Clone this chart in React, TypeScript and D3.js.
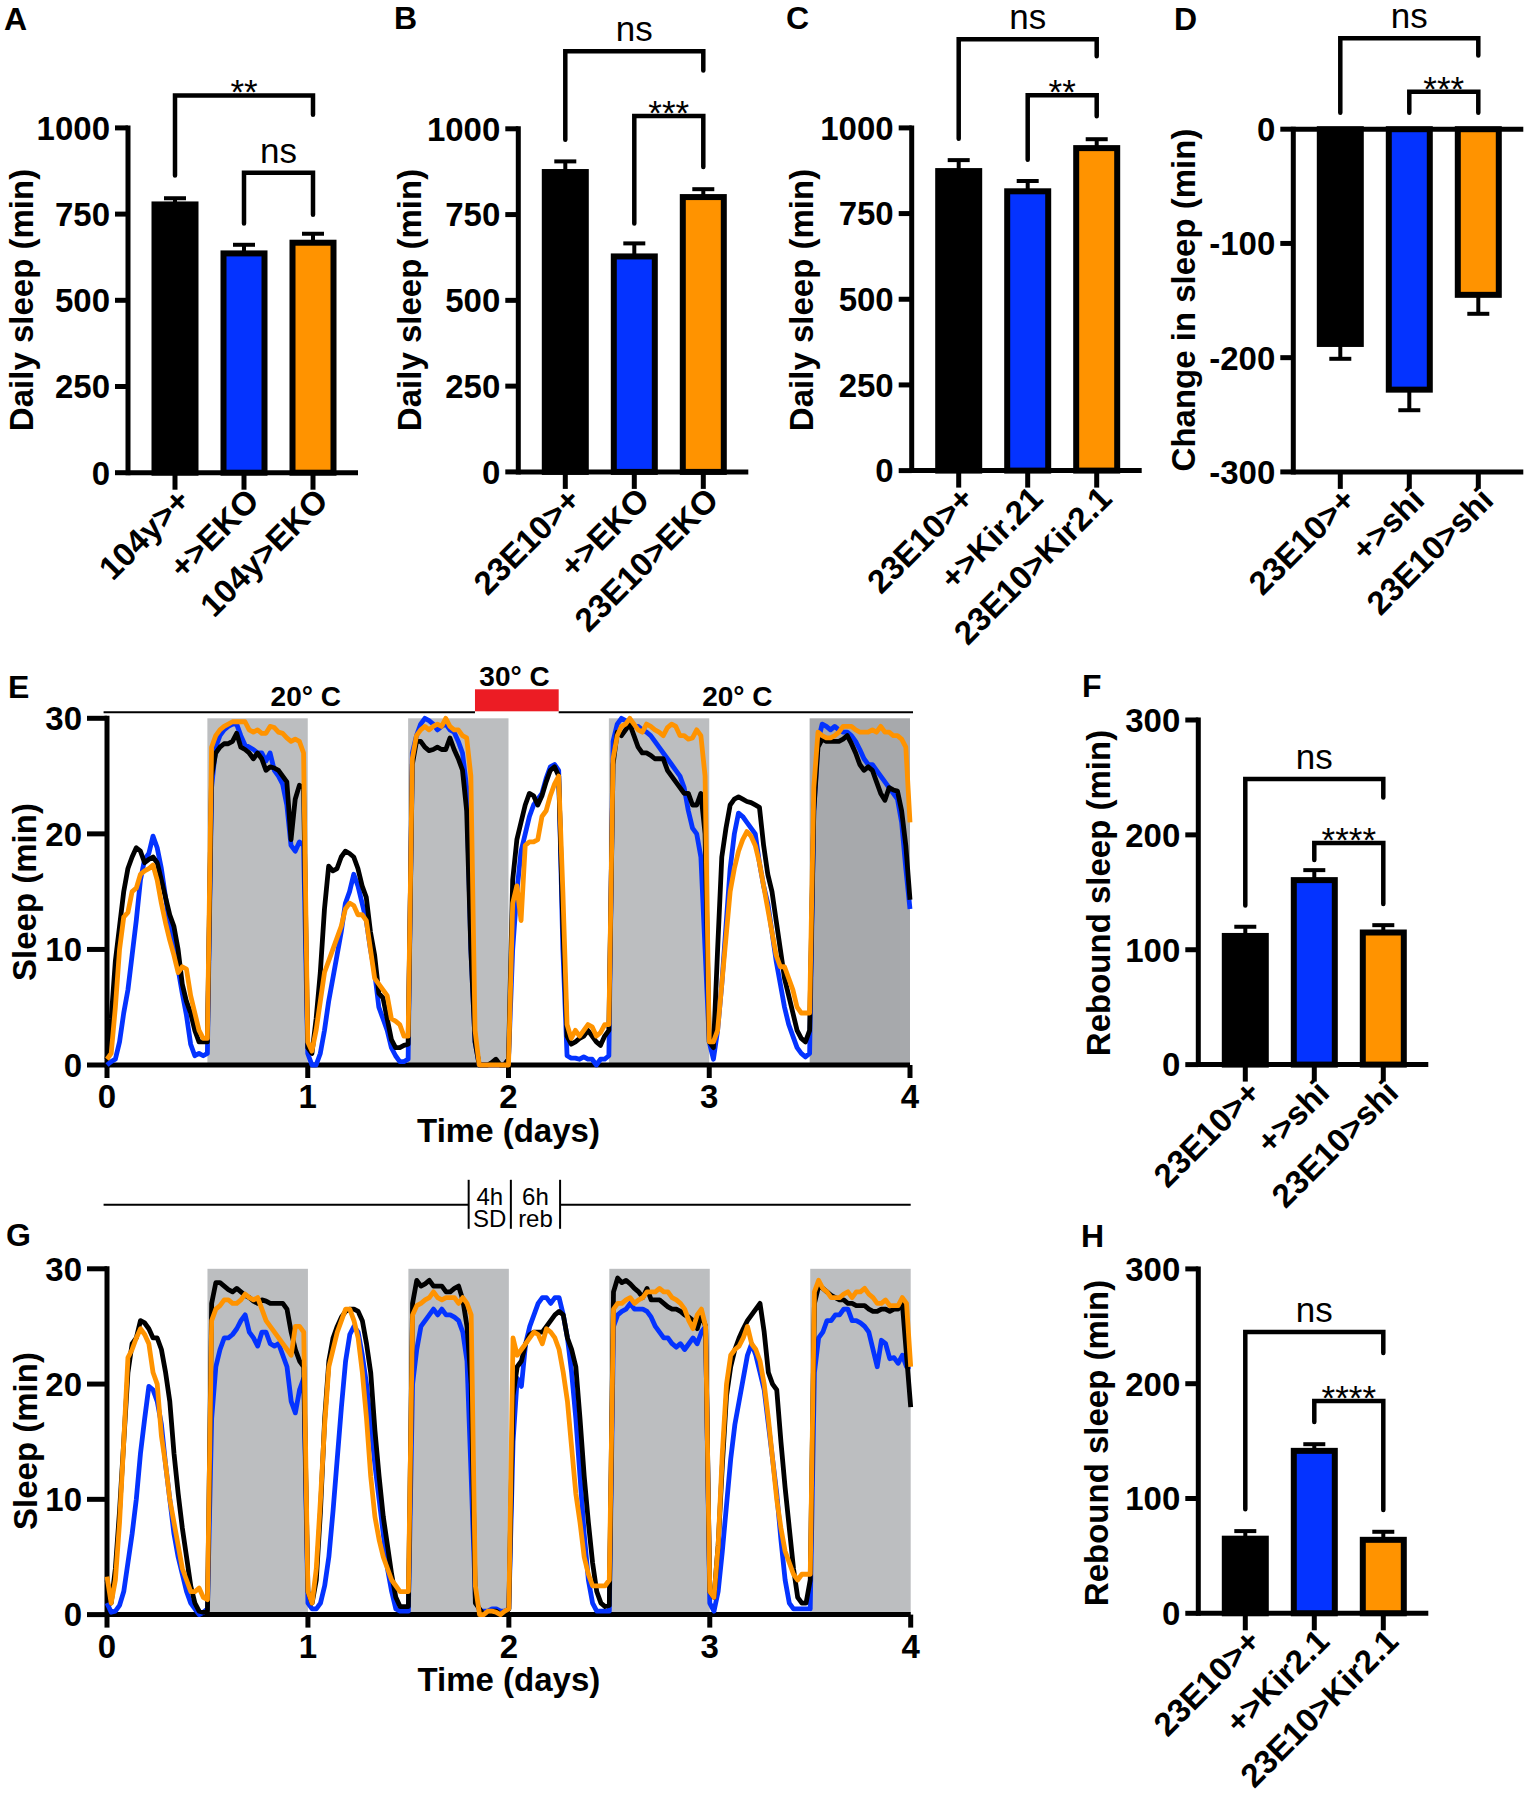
import React from "react";
import * as d3 from "d3";

// ---------------- DATA ----------------
const catsA = ["104y>+", "+>EKO", "104y>EKO"];
const meanA = [778, 636, 667];
const semA = [18, 25, 26];

const catsB = ["23E10>+", "+>EKO", "23E10>EKO"];
const meanB = [874, 628, 801];
const semB = [31, 38, 23];

const catsC = ["23E10>+", "+>Kir.21", "23E10>Kir2.1"];
const meanC = [874, 815, 941];
const semC = [32, 30, 26];

const catsD = ["23E10>+", "+>shi", "23E10>shi"];
const meanD = [-188, -228, -145];
const semD = [13, 18, 16.6];

const catsF = ["23E10>+", "+>shi", "23E10>shi"];
const meanF = [112, 160.6, 115];
const semF = [8, 8.7, 6.4];

const catsH = ["23E10>+", "+>Kir2.1", "23E10>Kir2.1"];
const meanH = [65, 141.5, 64];
const semH = [6.6, 5.8, 7];

const ticksDaily = [0, 250, 500, 750, 1000];
const ticksChange = [-300, -200, -100, 0];
const ticksRebound = [0, 100, 200, 300];
const ticksSleep = [0, 10, 20, 30];
const ticksDays = [0, 1, 2, 3, 4];

// significance brackets: [fromIdx, toIdx, barValue, leftLegEnd, rightLegEnd, label]
const sigA = [[0, 2, 1094, 862, 1038, "**"], [1, 2, 870, 723, 748, "ns"]];
const sigB = [[0, 2, 1226, 968, 1170, "ns"], [1, 2, 1037, 724, 889, "***"]];
const sigC = [[0, 2, 1259, 968, 1209, "ns"], [1, 2, 1095, 907, 1034, "**"]];
const sigD = [[0, 2, 79.7, 14.4, 64.5, "ns"], [1, 2, 32.7, 14.4, 14.4, "***"]];
const sigF = [[0, 2, 248.7, 138.4, 232.5, "ns"], [1, 2, 193, 178.1, 139.9, "****"]];
const sigH = [[0, 2, 245, 90.7, 226.7, "ns"], [1, 2, 185, 166.6, 90, "****"]];

// sleep per 30-min bin (days 0-4)
const E_BLACK = [
  0.5, 4, 9, 12, 15, 17, 18, 18.8, 18.5, 17.5, 17.8, 18, 17.5, 16, 14.5, 13, 12, 10, 7, 5.5, 4.5, 3, 2, 2, 2,
  25, 27, 27.5, 27.8, 27.8, 28, 28.7, 27.5, 27.3, 27, 26.5, 27, 26.5, 25.5, 25.8, 25.7, 25.5, 25, 24.5, 19.5, 23, 24.2, 24,
  1.5, 1, 4, 8, 13.5, 17.2, 16.8, 17, 18, 18.5, 18.3, 18, 17, 15.5, 14.5, 11.5, 9.5, 6.2, 5.8, 4, 2.2, 1.5, 1.5, 1.7, 1.8,
  26, 28, 28, 27.5, 27.2, 27.3, 27.5, 27.3, 27.3, 28.3, 27.3, 26.5, 25.5, 22, 10, 2, 0, 0, 0, 0.2, 0.5, 0, 0,
  0.5, 16, 19.5, 21, 22.5, 23.5, 23.3, 22.5, 23.3, 24.5, 25.5, 25.8, 25, 12, 2.5, 1.8, 2, 2.3, 2.5, 3, 2.5, 2, 1.7, 2.5, 3,
  26, 28.8, 28.5, 29, 29.5, 28.5, 27.5, 27, 27, 26.8, 26.5, 26.5, 26.5, 25.5, 25, 24.5, 24, 23.5, 23.5, 22.5, 22.5, 23.5, 20,
  2, 1.5, 10, 18, 20.5, 22.5, 23, 23.2, 23, 22.8, 22.7, 22.5, 22.3, 19, 16.5, 15, 12.5, 10, 7.5, 6, 4.5, 3, 2.3, 2, 3,
  22, 27.5, 28.2, 28, 28, 28, 28, 28.2, 28.5, 27.8, 27, 26, 25.5, 25.8, 25.5, 24.5, 23.5, 22.9, 24, 23.8, 23.7, 22, 19, 14.3,
];
const E_BLUE = [
  0, 0.3, 0.5, 2, 4.5, 6.5, 9.5, 12.5, 16, 17.8, 18.3, 19.8, 18.8, 17, 14.5, 12, 10.5, 8.3, 6.2, 4.3, 1.8, 0.8, 1, 0.8, 1,
  24, 27.5, 28.5, 29, 29.3, 29.5, 29.5, 28.5, 27.7, 27.5, 27.3, 27, 27, 26.3, 27, 25.5, 25, 24.3, 22.5, 19, 18.5, 19.3, 19,
  1, 0, 0, 1, 3, 5.5, 7.5, 9.5, 11.5, 14, 15, 16.5, 15.5, 14, 12.5, 10, 8, 5, 4, 3, 1.5, 0.8, 0.3, 0.3, 0.5,
  27, 28.5, 29.5, 30, 29.8, 29.5, 29, 29.3, 29.5, 29, 28.8, 28, 27, 24, 10, 2, 0, 0, 0, 0, 0, 0, 0,
  0.5, 10, 15, 18.5, 20, 21.5, 22.5, 23, 23.5, 24.8, 25.8, 26, 25.5, 10, 0.8, 0.6, 0.6, 0.5, 0.7, 0.5, 0.5, 0, 0.5, 0.5, 0.8,
  28, 29.5, 30, 29.8, 29.5, 29.3, 29.3, 29, 28.8, 28.5, 28, 27.5, 27, 26.5, 26, 25.5, 25, 24, 22, 20.5, 20, 18, 10,
  2, 0.5, 3, 7, 12, 17, 20, 21.8, 21.5, 21, 20.5, 20, 17.5, 15.5, 14, 11.5, 9, 7, 5, 3.5, 2.5, 1.5, 1, 0.7, 1,
  22, 28, 29.5, 29.3, 29, 29.3, 29, 28.8, 28.8, 28.5, 28, 27.3, 26.5, 26, 26, 25.5, 25, 24.5, 24, 23.5, 23, 21, 17, 13.5,
];
const E_ORANGE = [
  0.5, 1, 5, 10, 12.8, 13.2, 15, 15.3, 16.5, 16.8, 17, 17.3, 16, 14, 12.3, 10.8, 9.5, 8, 8.5, 8.3, 6, 4.5, 3, 2.3, 2.3,
  27.5, 28.5, 29, 29.3, 29.5, 29.7, 29.7, 29.7, 29.7, 29, 28.8, 29, 28.7, 28.7, 29.3, 29.2, 28.8, 28.7, 28.3, 28, 28.2, 28, 27,
  2, 1.2, 3, 5.5, 8, 9, 10, 11, 12, 13.5, 14, 13.8, 13, 13, 12.5, 10, 7.5, 7, 6.5, 6, 4, 3.8, 3.5, 2.5, 2.5,
  26.5, 28.5, 29, 29.3, 29, 29.3, 29.5, 29.3, 30, 29.3, 29, 29, 28.5, 28.3, 25, 3, 0, 0, 0, 0, 0, 0, 0,
  0, 14, 15.5, 12.5, 19, 19.3, 19.3, 19.5, 21.5, 22, 23.3, 24.3, 25, 15, 3.5, 2.3, 3, 2.5, 3, 3.5, 3.3, 2.5, 2.8, 3.5, 3.5,
  26.5, 28.5, 29.3, 29.5, 30, 29.5, 29, 28.8, 29.5, 29.3, 29, 28.8, 28.5, 29.2, 29.5, 29.3, 28.5, 28.5, 28.2, 28.3, 29, 28.5, 25,
  2, 2, 3, 7, 11, 15, 17, 18.5, 19.5, 20.2, 19.8, 19, 17.5, 15.5, 13.5, 11.5, 9.5, 8.5, 8.5, 7.5, 6.5, 5, 4.5, 4.5, 4.5,
  24, 28.8, 28.5, 28.3, 28.3, 28.5, 28.8, 29.3, 29.3, 29.3, 29, 28.8, 28.8, 28.8, 29, 28.8, 29.3, 28.8, 28.8, 28.5, 28.5, 28.2, 27.5, 21,
];
const G_BLACK = [
  3, 1, 4, 9, 15, 21, 23.5, 24, 25.5, 25.3, 24.8, 24, 24, 23, 21, 18.5, 14, 10.5, 7.5, 5, 2.5, 1, 0.3, 0.2, 0.3,
  27, 28.8, 28.8, 28.5, 28.2, 28, 28.3, 28, 27.7, 27.5, 27.2, 27, 27.3, 27.2, 27, 27, 27, 27, 26.5, 24.5, 23, 22, 21.5,
  2, 1, 3, 9, 17, 22, 24, 25, 25.8, 26.3, 26.5, 26.5, 26.3, 25.5, 23.5, 21, 16, 12, 8.5, 6, 3.5, 1.5, 0.7, 0.7, 0.7,
  27, 29, 28.5, 28.7, 29, 28.5, 28.5, 28.5, 28, 28, 28.3, 28.5, 27.3, 25, 20, 1, 0.5, 0, 0, 0.3, 0.3, 0, 0,
  0.5, 19, 21.5, 22, 23.5, 24.3, 24.5, 24.5, 24.5, 25, 25.5, 26, 26.3, 26, 24, 23, 21.5, 17, 12, 8, 4.5, 2, 1, 0.7, 0.8,
  28, 29.2, 28.8, 29, 28.7, 28.3, 28, 27.5, 28.3, 27.3, 27.3, 27.3, 27, 26.7, 26.5, 26.5, 26.3, 26, 25.8, 25.5, 24.8, 26, 25,
  2, 1.5, 6, 13, 19, 21.5, 23, 24, 24.8, 25.5, 26, 26.5, 27, 24.5, 21, 20, 19.5, 15, 11, 7.5, 4, 1.5, 1, 1, 3,
  27, 28.5, 28.3, 28, 27.7, 27.5, 27.3, 27.3, 27, 27, 26.8, 26.8, 26.8, 26.5, 26.3, 26.3, 26.5, 26.5, 26.3, 26.5, 26.5, 27, 22.5, 18,
];
const G_BLUE = [
  1, 0.2, 0.3, 0.8, 2, 4.5, 7, 10, 14, 17, 19.8, 19.5, 18.5, 16.5, 13, 10, 7, 5, 3.5, 2, 1, 0.5, 0, 0.2, 0.5,
  17, 21.5, 23, 24, 24, 24.3, 24.8, 25.5, 26, 24.5, 24, 23.3, 24.5, 24.5, 23.5, 23.3, 23.5, 22.5, 21.5, 18.5, 17.5, 19.5, 20.5,
  1, 0.5, 0.5, 1, 2.5, 5, 9, 13.5, 18, 22, 24.3, 25, 24.5, 22.5, 20, 16.5, 13, 10, 7, 4, 2, 0.5, 0.3, 0.3, 0.3,
  20, 23, 25, 25.5, 26, 26.5, 26, 26.5, 26, 26, 25.8, 25.5, 24.5, 22, 12, 1.5, 0.3, 0.3, 0.3, 0.5, 0.5, 0.3, 0.3,
  0.5, 15, 20.5, 19.8, 23.5, 25, 26, 27, 27.5, 27.5, 27, 27.5, 27.5, 26, 24, 21, 17, 12, 7, 3, 1, 0.3, 0.3, 0.3, 0.3,
  25, 26, 26.3, 26.5, 27, 26.5, 26.5, 26.5, 26.3, 25.8, 25, 24.5, 24, 24, 23.5, 23.2, 23.5, 23, 23.5, 24, 23.5, 24.5, 25,
  1, 0.3, 2, 5.5, 9.5, 13.5, 16.5, 18.5, 20.5, 22.5, 23.5, 22.5, 21, 19.5, 16.5, 13.5, 10.5, 6.5, 3, 1, 0.5, 0.5, 0.5, 0.5, 0.5,
  21, 24, 24.5, 25.5, 25.5, 26, 26, 26.5, 26.5, 25.5, 25.5, 25.3, 25, 24.5, 23, 21.5, 23.8, 23.5, 22.2, 22.3, 21.8, 22.5, 21.5, 21.5,
];
const G_ORANGE = [
  3.3, 1, 3, 8, 15, 22.3, 23, 24, 24.8, 24.3, 23.5, 21, 20, 15.5, 13, 10, 8, 6, 4, 3, 2, 2, 2.3, 1.5, 1.3,
  25.5, 26.5, 26.8, 27.3, 27.3, 27, 27, 27.3, 27.8, 27.5, 27.3, 27.5, 26.5, 25.5, 25, 24.5, 24, 23.5, 23, 22.5, 25, 25, 24.5,
  2, 1, 4, 10, 16.5, 21.5, 23, 24.5, 25.5, 26.5, 26.5, 25.5, 24, 21, 17, 12, 8.5, 6.5, 5, 4, 3, 2.5, 2, 2, 2,
  26, 26.8, 27, 27.3, 27.5, 28, 27.5, 27.3, 27.5, 27.5, 27.5, 27, 27.5, 27, 26, 2.5, 0, 0, 0.3, 0.3, 0.2, 0, 0.3,
  0.5, 24, 22.5, 23, 23.5, 24, 24.5, 24.3, 23.5, 24.8, 24.5, 24, 23, 21, 18.5, 14.5, 10.5, 8, 5, 3.5, 2.5, 2.5, 2.5, 2.5, 3,
  26.5, 27, 27, 27.3, 27.5, 27, 27.3, 27.5, 28, 28, 28, 28.3, 28, 28, 27.5, 27.3, 27, 26.5, 25.5, 24.8, 26, 26.5, 25,
  2, 1.5, 6, 14, 20, 22.5, 23, 23.3, 24, 25, 23.5, 23, 22, 20, 17, 13.5, 10, 7.5, 5.5, 4.5, 3.5, 3, 3.5, 3.5, 3.5,
  28, 29, 28.3, 28, 27.5, 27.5, 27.5, 27.8, 28, 27.5, 28, 28, 28.3, 27.8, 27.5, 27, 27, 27.3, 26.8, 26.8, 26.8, 27.5, 27, 21.5,
];

const nightStarts = [0.5, 1.5, 2.5, 3.5];
const heatPeriod = [1.833, 2.25];
const sdMarks = [1.8, 2.01, 2.255];

// ---------------- STYLE ----------------
const FONT = "'Liberation Sans', Arial, Helvetica, sans-serif";
const BLUE = "#0433FF";
const ORANGE = "#FF9300";
const BAR_COLORS = ["#000000", BLUE, ORANGE];
const GRAY = "#BCBEC0";
const GRAY_DARK = "#A7A9AC";
const FS = 33;
const LETTER_FS = 32;

function BarPanel(p: any) {
  const y = d3.scaleLinear().domain(p.domain).range(p.yRange);
  const x = d3.scalePoint<string>().domain(p.cats).range([p.axisX + 47, p.axisX + 185]);
  const axisY = y(p.domain[0]);
  const topY = y(p.domain[1]);
  const zeroY = y(0);
  const xEnd = p.axisX + 230;
  return (
    <g>
      <text x={p.letterPos[0]} y={p.letterPos[1]} fontSize={LETTER_FS} fontWeight="bold">{p.letter}</text>
      <text transform={`translate(${p.ylabelPos[0]},${p.ylabelPos[1]}) rotate(-90)`} textAnchor="middle" fontSize={FS} fontWeight="bold">{p.ylabel}</text>
      {p.cats.map((c: string, i: number) => {
        const cx = x(c)!;
        const m = p.means[i];
        const e = m >= 0 ? m + p.sems[i] : m - p.sems[i];
        return (
          <g key={c}>
            <line x1={cx} x2={cx} y1={y(m)} y2={y(e)} stroke="#000" strokeWidth={4} />
            <line x1={cx - 11} x2={cx + 11} y1={y(e)} y2={y(e)} stroke="#000" strokeWidth={4} />
            <rect x={cx - 20.5} y={Math.min(y(m), zeroY)} width={41} height={Math.abs(y(m) - zeroY)} fill={BAR_COLORS[i]} stroke="#000" strokeWidth={6} />
          </g>
        );
      })}
      <line x1={p.axisX} x2={p.axisX} y1={topY} y2={axisY} stroke="#000" strokeWidth={5} strokeLinecap="square" />
      <line x1={p.axisX} x2={xEnd} y1={axisY} y2={axisY} stroke="#000" strokeWidth={5} />
      {p.domain[1] === 0 && <line x1={p.axisX} x2={xEnd} y1={zeroY} y2={zeroY} stroke="#000" strokeWidth={5} />}
      {p.ticks.map((t: number) => (
        <g key={t}>
          <line x1={p.axisX - 13} x2={p.axisX} y1={y(t)} y2={y(t)} stroke="#000" strokeWidth={5} />
          <text x={p.axisX - 18} y={y(t)} dy="0.36em" textAnchor="end" fontSize={FS} fontWeight="bold">{String(t)}</text>
        </g>
      ))}
      {p.cats.map((c: string) => {
        const cx = x(c)!;
        return (
          <g key={"xt" + c}>
            <line x1={cx} x2={cx} y1={axisY} y2={axisY + 17} stroke="#000" strokeWidth={5} />
            <text transform={`translate(${cx + 17},${axisY + 30}) rotate(-45)`} textAnchor="end" fontSize={FS} fontWeight="bold">{c}</text>
          </g>
        );
      })}
      {p.sig.map((s: any, k: number) => {
        const x1 = x(p.cats[s[0]])!, x2 = x(p.cats[s[1]])!;
        const yb = y(s[2]);
        const isNs = s[5] === "ns";
        return (
          <g key={"s" + k}>
            <path d={`M${x1},${y(s[3])}V${yb}H${x2}V${y(s[4])}`} fill="none" stroke="#000" strokeWidth={4.5} strokeLinecap="round" />
            <text x={(x1 + x2) / 2} y={isNs ? yb - 10 : yb + 9} textAnchor="middle" fontSize={35}>{s[5]}</text>
          </g>
        );
      })}
    </g>
  );
}

function TimePanel(p: any) {
  const x = d3.scaleLinear().domain([0, 4]).range(p.xRange);
  const y = d3.scaleLinear().domain([0, 30]).range(p.yRange);
  const line = d3.line<number>().x((_, i) => x(i / 48)).y((d) => y(d));
  return (
    <g>
      <text x={p.letterPos[0]} y={p.letterPos[1]} fontSize={LETTER_FS} fontWeight="bold">{p.letter}</text>
      {nightStarts.map((n, i) => (
        <rect key={n} x={x(n)} y={y(30)} width={x(n + 0.5) - x(n)} height={y(0) - y(30)}
          fill={p.darkLast && i === nightStarts.length - 1 ? GRAY_DARK : GRAY} />
      ))}
      <line x1={x(0)} x2={x(0)} y1={y(30)} y2={y(0)} stroke="#000" strokeWidth={5} strokeLinecap="square" />
      <line x1={x(0)} x2={x(4)} y1={y(0)} y2={y(0)} stroke="#000" strokeWidth={5} />
      {ticksSleep.map((t) => (
        <g key={t}>
          <line x1={x(0) - 20} x2={x(0)} y1={y(t)} y2={y(t)} stroke="#000" strokeWidth={5} />
          <text x={x(0) - 25} y={y(t)} dy="0.36em" textAnchor="end" fontSize={FS} fontWeight="bold">{t}</text>
        </g>
      ))}
      {ticksDays.map((t) => (
        <g key={t}>
          <line x1={x(t)} x2={x(t)} y1={y(0)} y2={y(0) + 13} stroke="#000" strokeWidth={5} />
          <text x={x(t)} y={y(0) + 43} textAnchor="middle" fontSize={FS} fontWeight="bold">{t}</text>
        </g>
      ))}
      <path d={line(p.blue)!} fill="none" stroke={BLUE} strokeWidth={4.8} strokeLinejoin="round" />
      <path d={line(p.black)!} fill="none" stroke="#000" strokeWidth={4.8} strokeLinejoin="round" />
      <path d={line(p.orange)!} fill="none" stroke={ORANGE} strokeWidth={4.8} strokeLinejoin="round" />
      <text transform={`translate(${p.ylabelPos[0]},${p.ylabelPos[1]}) rotate(-90)`} textAnchor="middle" fontSize={FS} fontWeight="bold">Sleep (min)</text>
      <text x={(x(0) + x(4)) / 2} y={p.xlabelY} textAnchor="middle" fontSize={FS} fontWeight="bold">Time (days)</text>
      {p.children ? p.children(x, y) : null}
    </g>
  );
}

export default function App() {
  return (
    <svg width={1526} height={1800} viewBox="0 0 1526 1800" fontFamily={FONT}
      style={{ position: "absolute", left: 0, top: 0, display: "block", background: "#fff" }}>
      <rect x={0} y={0} width={1526} height={1800} fill="#fff" />
      <BarPanel letter="A" letterPos={[4, 30]} ylabel="Daily sleep (min)" ylabelPos={[33, 300]}
        axisX={128} yRange={[472.7, 127.9]} domain={[0, 1000]} ticks={ticksDaily}
        cats={catsA} means={meanA} sems={semA} sig={sigA} />
      <BarPanel letter="B" letterPos={[394, 29]} ylabel="Daily sleep (min)" ylabelPos={[421, 300]}
        axisX={518.3} yRange={[471.9, 128.8]} domain={[0, 1000]} ticks={ticksDaily}
        cats={catsB} means={meanB} sems={semB} sig={sigB} />
      <BarPanel letter="C" letterPos={[786, 29]} ylabel="Daily sleep (min)" ylabelPos={[813, 300]}
        axisX={911.7} yRange={[470.6, 127.9]} domain={[0, 1000]} ticks={ticksDaily}
        cats={catsC} means={meanC} sems={semC} sig={sigC} />
      <BarPanel letter="D" letterPos={[1174, 30]} ylabel="Change in sleep (min)" ylabelPos={[1195, 300]}
        axisX={1293.3} yRange={[471.9, 129.2]} domain={[-300, 0]} ticks={ticksChange}
        cats={catsD} means={meanD} sems={semD} sig={sigD} />
      <BarPanel letter="F" letterPos={[1082, 697]} ylabel="Rebound sleep (min)" ylabelPos={[1110, 893]}
        axisX={1198.3} yRange={[1064.6, 720]} domain={[0, 300]} ticks={ticksRebound}
        cats={catsF} means={meanF} sems={semF} sig={sigF} />
      <BarPanel letter="H" letterPos={[1081, 1247]} ylabel="Rebound sleep (min)" ylabelPos={[1108, 1443]}
        axisX={1198.3} yRange={[1613.3, 1268.9]} domain={[0, 300]} ticks={ticksRebound}
        cats={catsH} means={meanH} sems={semH} sig={sigH} />

      <TimePanel letter="E" letterPos={[8, 698]} xRange={[107, 910]} yRange={[1065, 718.3]}
        ylabelPos={[36, 892]} xlabelY={1142} darkLast={true}
        black={E_BLACK} blue={E_BLUE} orange={E_ORANGE}>
        {(x: any, y: any) => (
          <g>
            <line x1={x(-0.017)} x2={x(heatPeriod[0])} y1={y(30) - 6} y2={y(30) - 6} stroke="#000" strokeWidth={2} />
            <line x1={x(heatPeriod[1])} x2={x(4.015)} y1={y(30) - 6} y2={y(30) - 6} stroke="#000" strokeWidth={2} />
            <rect x={x(heatPeriod[0])} y={y(30) - 29} width={x(heatPeriod[1]) - x(heatPeriod[0])} height={22} fill="#EC1C24" />
            <text x={x(0.99)} y={y(30) - 12} textAnchor="middle" fontSize={28} fontWeight="bold">20° C</text>
            <text x={x(2.03)} y={y(30) - 32} textAnchor="middle" fontSize={28} fontWeight="bold">30° C</text>
            <text x={x(3.14)} y={y(30) - 12} textAnchor="middle" fontSize={28} fontWeight="bold">20° C</text>
          </g>
        )}
      </TimePanel>

      <TimePanel letter="G" letterPos={[6, 1246]} xRange={[107, 910.7]} yRange={[1614.6, 1268.8]}
        ylabelPos={[36.5, 1441]} xlabelY={1691} darkLast={false}
        black={G_BLACK} blue={G_BLUE} orange={G_ORANGE}>
        {(x: any, y: any) => (
          <g>
            <line x1={x(-0.017)} x2={x(sdMarks[0])} y1={y(30) - 64} y2={y(30) - 64} stroke="#000" strokeWidth={2} />
            <line x1={x(sdMarks[2])} x2={x(4)} y1={y(30) - 64} y2={y(30) - 64} stroke="#000" strokeWidth={2} />
            {sdMarks.map((d) => (
              <line key={d} x1={x(d)} x2={x(d)} y1={y(30) - 89} y2={y(30) - 40} stroke="#000" strokeWidth={2} />
            ))}
            <text x={(x(sdMarks[0]) + x(sdMarks[1])) / 2} y={y(30) - 64} textAnchor="middle" fontSize={24}>4h</text>
            <text x={(x(sdMarks[0]) + x(sdMarks[1])) / 2} y={y(30) - 42} textAnchor="middle" fontSize={24}>SD</text>
            <text x={(x(sdMarks[1]) + x(sdMarks[2])) / 2} y={y(30) - 64} textAnchor="middle" fontSize={24}>6h</text>
            <text x={(x(sdMarks[1]) + x(sdMarks[2])) / 2} y={y(30) - 42} textAnchor="middle" fontSize={24}>reb</text>
          </g>
        )}
      </TimePanel>
    </svg>
  );
}
